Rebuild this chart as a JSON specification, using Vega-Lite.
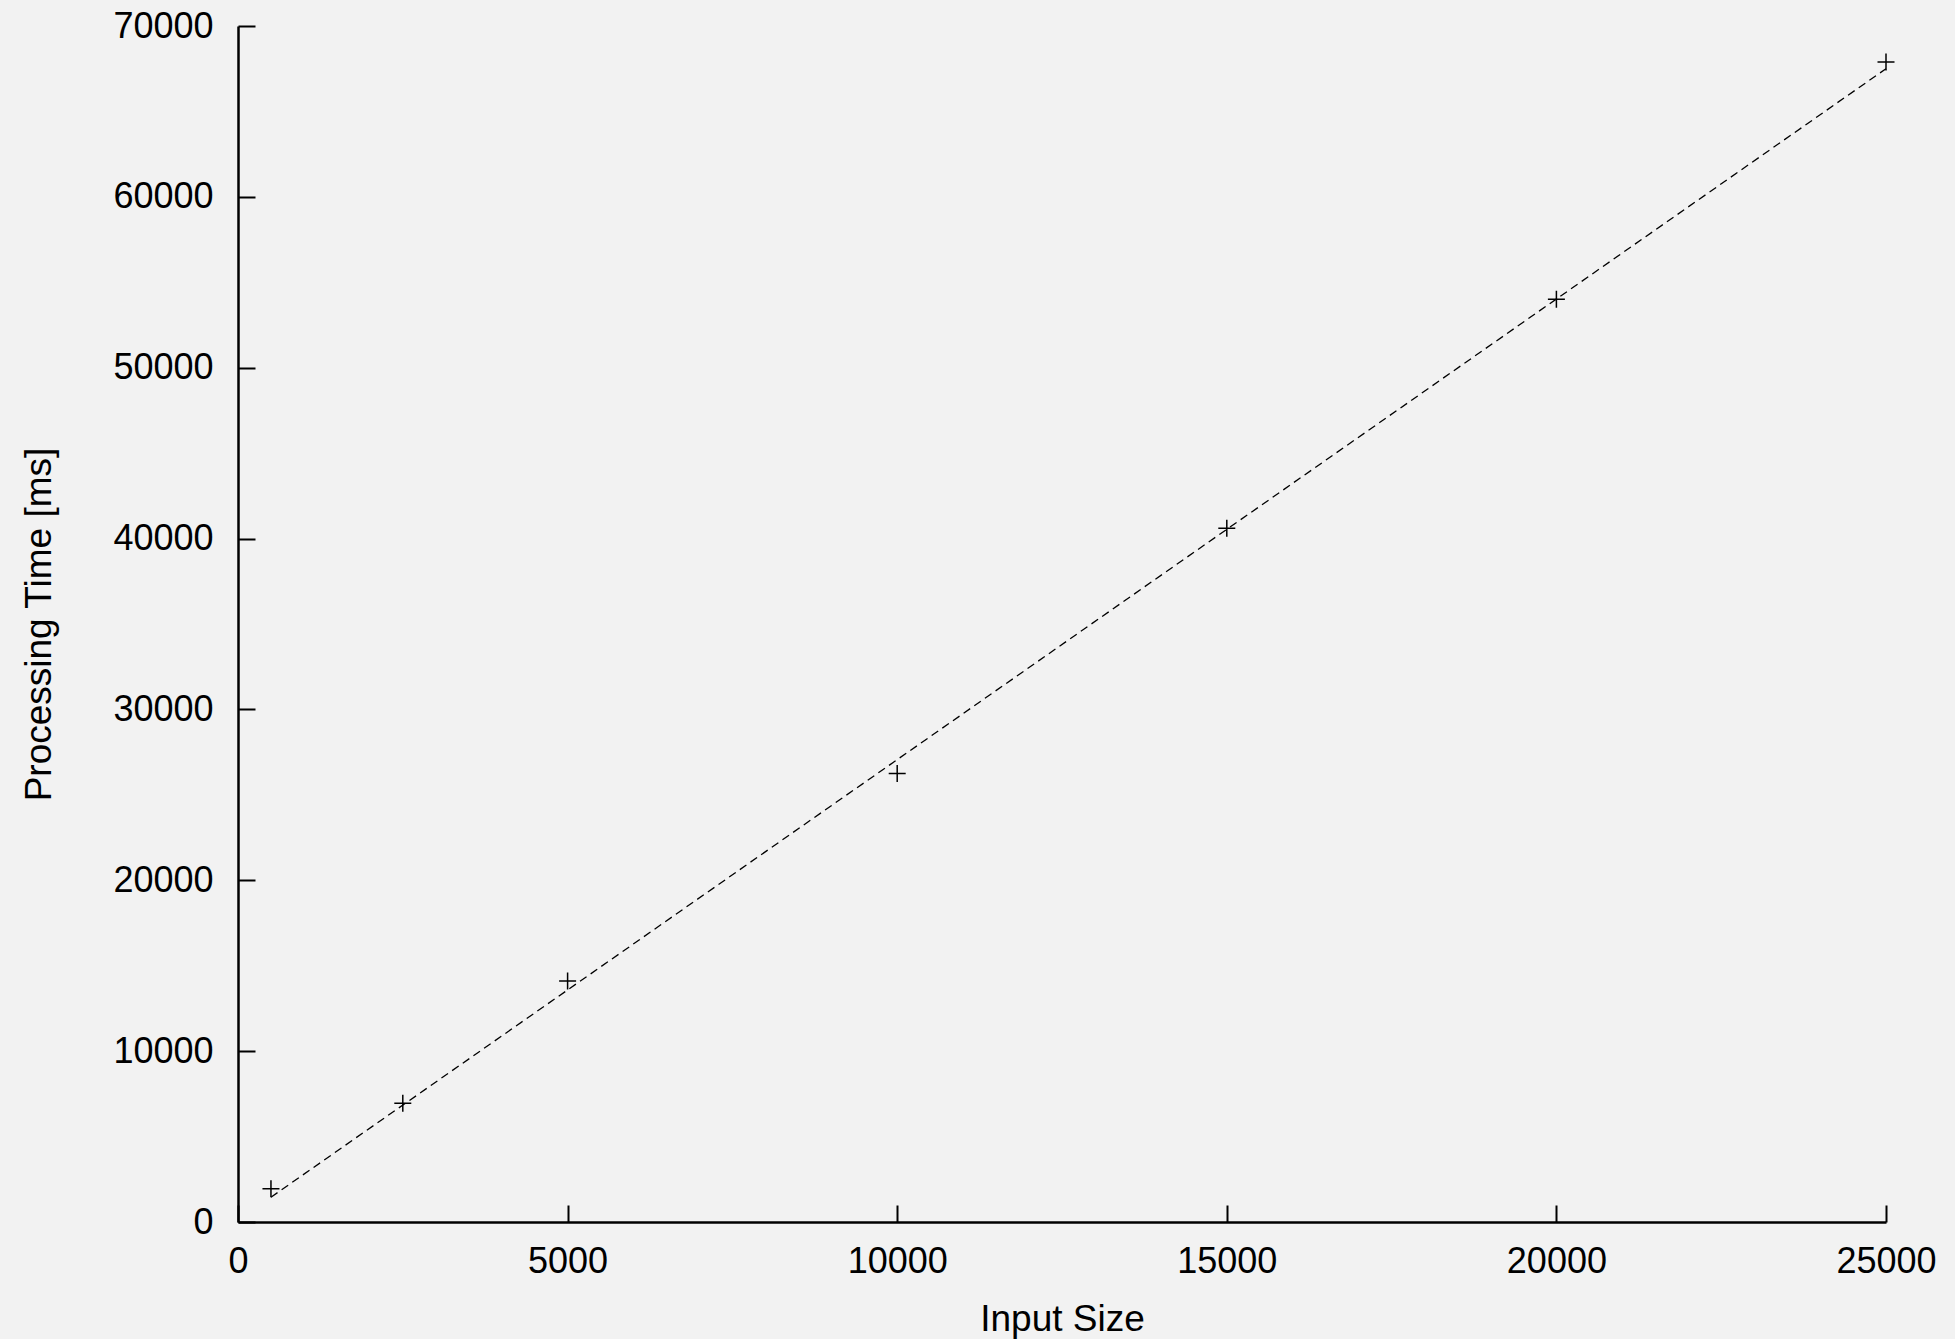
{
  "$schema": "https://vega.github.io/schema/vega-lite/v6.json",
  "autosize": {"type": "none"},
  "width": 1648,
  "height": 1196,
  "padding": {"left": 238, "top": 26, "right": 69, "bottom": 117},
  "background": "#f2f2f2",
  "config": {
    "view": {"stroke": null},
    "font": "Liberation Sans",
    "axis": {
      "domainColor": "#000000",
      "domainWidth": 2.5,
      "tickColor": "#000000",
      "tickWidth": 2,
      "tickSize": -17,
      "grid": false,
      "labelFont": "Liberation Sans",
      "labelFontSize": 36,
      "labelColor": "#000000",
      "labelFontWeight": "normal",
      "titleFont": "Liberation Sans",
      "titleFontSize": 37,
      "titleFontWeight": "normal",
      "titleColor": "#000000"
    }
  },
  "datasets": {
    "points": [
      {"size": 500, "time": 1950},
      {"size": 2500, "time": 6950},
      {"size": 5000, "time": 14100},
      {"size": 10000, "time": 26250},
      {"size": 15000, "time": 40600},
      {"size": 20000, "time": 54000},
      {"size": 25000, "time": 67900}
    ],
    "fit": [
      {"size": 500, "time": 1450},
      {"size": 25000, "time": 67500}
    ]
  },
  "layer": [
    {
      "data": {"name": "fit"},
      "mark": {"type": "line", "color": "#000000", "strokeWidth": 1.3, "strokeDash": [8, 5]},
      "encoding": {
        "x": {"field": "size", "type": "quantitative", "scale": {"domain": [0, 25000], "nice": false},
          "axis": {"title": "Input Size", "values": [0, 5000, 10000, 15000, 20000, 25000], "format": "d", "labelPadding": 39, "labelFlush": false, "titleY": 108, "titleBaseline": "alphabetic"}},
        "y": {"field": "time", "type": "quantitative", "scale": {"domain": [0, 70000], "nice": false},
          "axis": {"title": "Processing Time [ms]", "values": [0, 10000, 20000, 30000, 40000, 50000, 60000, 70000], "format": "d", "labelPadding": 42, "labelFlush": false, "titleX": -188, "titleBaseline": "alphabetic"}}
      }
    },
    {
      "data": {"name": "points"},
      "mark": {"type": "point", "shape": "M-1,0L1,0M0,-1L0,1", "filled": false, "stroke": "#000000", "strokeWidth": 1.5, "size": 289, "opacity": 1},
      "encoding": {
        "x": {"field": "size", "type": "quantitative"},
        "y": {"field": "time", "type": "quantitative"}
      }
    }
  ]
}
